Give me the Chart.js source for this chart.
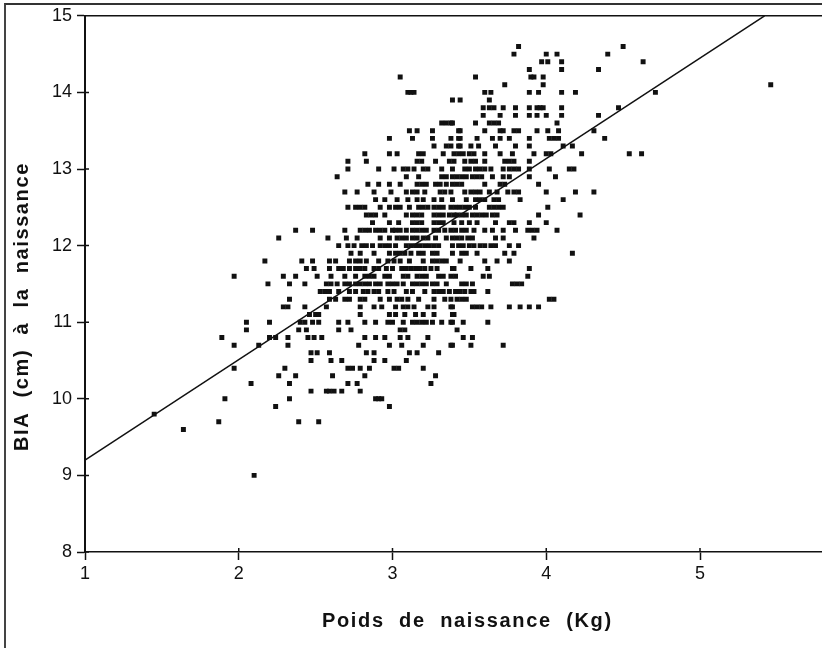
<!DOCTYPE html>
<html lang="fr">
<head>
<meta charset="utf-8">
<title>BIA et poids de naissance</title>
<script src="https://cdn.jsdelivr.net/npm/chart.js@4"></script>
<style>
  html, body { margin: 0; padding: 0; background: #fff; overflow: hidden; }
  #wrap { position: relative; width: 822px; height: 648px; overflow: hidden; }
  #frame { position: absolute; left: 4px; top: 3px; right: 0; bottom: 0; border-left: 2px solid #444; border-top: 2px solid #333; }
  canvas { position: absolute; left: 0; top: 0; }
</style>
</head>
<body>
<div id="wrap">
  <div id="frame"></div>
  <!-- a bit wider than the window: the axis has to run off the right edge -->
  <canvas id="chart" width="827" height="648"></canvas>
</div>
<script>
const xTitle = "Poids de naissance (Kg)";
const yTitle = "BIA (cm) à la naissance";
const xTicks = [1, 2, 3, 4, 5];
const yTicks = [8, 9, 10, 11, 12, 13, 14, 15];

// regression line, read at both ends
const lineX = [1, 5.42];
const lineY = [9.2, 15];

// measurements are rounded to 0.1 cm so the cloud is kept row by row
const rowY = [14.6, 14.5, 14.4, 14.3, 14.2, 14.1, 14.0, 13.9, 13.8, 13.7, 13.6, 13.5, 13.4, 13.3, 13.2, 13.1, 13.0, 12.9, 12.8, 12.7];
const rowX = [
  [3.82, 4.50],
  [3.79, 4.00, 4.07, 4.40],
  [3.97, 4.01, 4.10, 4.63],
  [3.89, 4.10, 4.34],
  [3.05, 3.54, 3.90, 3.92, 3.98],
  [3.73, 3.98, 5.46],
  [3.10, 3.12, 3.14, 3.60, 3.64, 3.89, 3.95, 4.10, 4.19, 4.71],
  [3.39, 3.44, 3.63],
  [3.59, 3.63, 3.66, 3.72, 3.80, 3.89, 3.94, 3.96, 3.98, 4.10, 4.47],
  [3.59, 3.70, 3.80, 3.89, 3.94, 4.00, 4.10, 4.34],
  [3.32, 3.35, 3.38, 3.39, 3.54, 3.63, 3.66, 3.69, 4.07],
  [3.11, 3.16, 3.26, 3.43, 3.44, 3.60, 3.70, 3.72, 3.79, 3.82, 3.94, 4.01, 4.08, 4.31],
  [2.98, 3.13, 3.26, 3.38, 3.43, 3.44, 3.55, 3.65, 3.70, 3.76, 3.89, 4.02, 4.05, 4.08, 4.38],
  [3.27, 3.35, 3.38, 3.43, 3.44, 3.51, 3.56, 3.67, 3.80, 3.89, 4.11, 4.17],
  [2.82, 2.98, 3.03, 3.17, 3.20, 3.33, 3.40, 3.43, 3.46, 3.50, 3.53, 3.60, 3.70, 3.78, 3.92, 4.00, 4.03, 4.23, 4.54, 4.62],
  [2.71, 2.83, 3.16, 3.19, 3.28, 3.37, 3.40, 3.47, 3.51, 3.54, 3.60, 3.73, 3.76, 3.79, 3.89],
  [2.71, 2.91, 3.01, 3.07, 3.10, 3.14, 3.20, 3.23, 3.32, 3.39, 3.47, 3.50, 3.54, 3.57, 3.60, 3.64, 3.72, 3.76, 3.79, 3.82, 3.89, 4.02, 4.15, 4.18],
  [2.64, 3.09, 3.17, 3.32, 3.35, 3.39, 3.42, 3.45, 3.48, 3.52, 3.55, 3.58, 3.65, 3.72, 3.76, 3.89, 4.06],
  [2.84, 2.91, 2.98, 3.05, 3.16, 3.19, 3.22, 3.28, 3.31, 3.35, 3.39, 3.42, 3.45, 3.60, 3.70, 3.73, 3.95],
  [2.69, 2.77, 2.88, 2.99, 3.09, 3.13, 3.16, 3.21, 3.31, 3.34, 3.38, 3.47, 3.51, 3.54, 3.57, 3.63, 3.68, 3.75, 3.79, 3.82, 4.00, 4.19, 4.31]
];

const rowYLow = [12.6, 12.5, 12.4, 12.3, 12.2, 12.1, 12.0, 11.9, 11.8, 11.7, 11.6, 11.5, 11.4, 11.3, 11.2, 11.1, 11.0];
const rowXLow = [
  [2.89, 2.95, 3.03, 3.10, 3.16, 3.20, 3.27, 3.32, 3.39, 3.48, 3.54, 3.57, 3.60, 3.66, 3.69, 3.83, 4.11],
  [2.71, 2.76, 2.79, 2.82, 2.92, 2.98, 3.02, 3.05, 3.11, 3.17, 3.20, 3.23, 3.27, 3.30, 3.33, 3.38, 3.41, 3.44, 3.47, 3.50, 3.54, 3.63, 3.66, 3.69, 3.72, 4.01],
  [2.83, 2.86, 2.89, 2.95, 3.09, 3.13, 3.16, 3.19, 3.27, 3.30, 3.33, 3.37, 3.40, 3.42, 3.45, 3.48, 3.52, 3.55, 3.58, 3.61, 3.65, 3.68, 3.95, 4.22],
  [2.87, 2.98, 3.04, 3.13, 3.16, 3.19, 3.27, 3.30, 3.33, 3.40, 3.45, 3.50, 3.55, 3.67, 3.76, 3.79, 3.89, 4.00],
  [2.37, 2.48, 2.69, 2.79, 2.82, 2.85, 2.89, 2.92, 2.95, 3.00, 3.02, 3.05, 3.09, 3.13, 3.16, 3.19, 3.22, 3.27, 3.30, 3.34, 3.38, 3.41, 3.45, 3.48, 3.53, 3.60, 3.65, 3.72, 3.80, 3.88, 3.91, 3.94, 4.07],
  [2.26, 2.58, 2.70, 2.77, 2.92, 2.98, 3.03, 3.06, 3.09, 3.13, 3.16, 3.20, 3.23, 3.28, 3.35, 3.39, 3.42, 3.45, 3.49, 3.52, 3.67, 3.72, 3.92],
  [2.65, 2.71, 2.75, 2.80, 2.83, 2.87, 2.92, 2.95, 2.98, 3.02, 3.09, 3.12, 3.15, 3.18, 3.21, 3.24, 3.27, 3.30, 3.39, 3.43, 3.46, 3.50, 3.53, 3.57, 3.60, 3.64, 3.67, 3.76, 3.82],
  [2.73, 2.79, 2.88, 2.98, 3.02, 3.05, 3.08, 3.12, 3.17, 3.20, 3.26, 3.29, 3.39, 3.45, 3.48, 3.55, 3.73, 3.79, 4.17],
  [2.17, 2.41, 2.48, 2.59, 2.63, 2.72, 2.76, 2.79, 2.83, 2.91, 2.97, 3.01, 3.05, 3.11, 3.20, 3.26, 3.29, 3.32, 3.35, 3.44, 3.60, 3.68, 3.76],
  [2.44, 2.49, 2.59, 2.65, 2.68, 2.72, 2.76, 2.79, 2.82, 2.88, 2.91, 2.96, 3.00, 3.06, 3.09, 3.12, 3.15, 3.18, 3.21, 3.25, 3.29, 3.39, 3.40, 3.51, 3.62, 3.89],
  [1.97, 2.29, 2.37, 2.51, 2.60, 2.69, 2.76, 2.82, 2.85, 2.88, 2.95, 2.98, 3.07, 3.10, 3.16, 3.19, 3.22, 3.30, 3.33, 3.38, 3.41, 3.59, 3.63, 3.88],
  [2.19, 2.33, 2.43, 2.57, 2.60, 2.64, 2.69, 2.72, 2.76, 2.79, 2.82, 2.85, 2.89, 2.92, 2.97, 3.00, 3.03, 3.07, 3.13, 3.16, 3.19, 3.22, 3.26, 3.29, 3.35, 3.45, 3.48, 3.52, 3.78, 3.81, 3.84],
  [2.53, 2.56, 2.59, 2.65, 2.72, 2.76, 2.81, 2.84, 2.88, 2.91, 2.97, 3.01, 3.09, 3.13, 3.21, 3.27, 3.30, 3.33, 3.37, 3.41, 3.44, 3.47, 3.51, 3.53, 3.62],
  [2.33, 2.59, 2.63, 2.69, 2.72, 2.79, 2.82, 2.92, 2.98, 3.03, 3.06, 3.10, 3.17, 3.27, 3.34, 3.38, 3.42, 3.45, 3.48, 4.02, 4.05],
  [2.29, 2.32, 2.43, 2.57, 2.79, 2.88, 2.93, 3.02, 3.07, 3.10, 3.14, 3.23, 3.27, 3.38, 3.39, 3.52, 3.55, 3.58, 3.64, 3.76, 3.83, 3.89, 3.95],
  [2.46, 2.50, 2.52, 2.79, 2.98, 3.02, 3.08, 3.15, 3.20, 3.27, 3.39, 3.40],
  [2.05, 2.20, 2.40, 2.43, 2.48, 2.52, 2.65, 2.71, 2.82, 2.89, 2.97, 3.00, 3.07, 3.13, 3.16, 3.19, 3.22, 3.26, 3.32, 3.38, 3.39, 3.46, 3.62]
];

const rowYBottom = [10.9, 10.8, 10.7, 10.6, 10.5, 10.4, 10.3, 10.2, 10.1, 10.0, 9.9, 9.8, 9.7, 9.6, 9.0];
const rowXBottom = [
  [2.05, 2.39, 2.44, 2.65, 2.73, 3.05, 3.08, 3.42],
  [1.89, 2.20, 2.24, 2.32, 2.45, 2.49, 2.54, 2.82, 2.89, 2.95, 3.05, 3.10, 3.23, 3.46, 3.52],
  [1.97, 2.13, 2.32, 2.78, 2.98, 3.06, 3.20, 3.38, 3.39, 3.51, 3.72],
  [2.47, 2.51, 2.59, 2.83, 2.88, 3.11, 3.16, 3.30],
  [2.47, 2.60, 2.67, 2.88, 2.95, 3.09],
  [1.97, 2.30, 2.71, 2.74, 2.79, 2.85, 3.01, 3.04, 3.20],
  [2.26, 2.37, 2.61, 2.82, 3.28],
  [2.08, 2.33, 2.71, 2.77, 3.25],
  [2.47, 2.57, 2.59, 2.62, 2.67, 2.79],
  [1.91, 2.33, 2.89, 2.91, 2.93],
  [2.24, 2.98],
  [1.45],
  [1.87, 2.39, 2.52],
  [1.64],
  [2.10]
];

function toPoints(ys, xs) {
  const out = [];
  ys.forEach((y, i) => xs[i].forEach(x => out.push({ x: x, y: y })));
  return out;
}

const cloud = [
  ...toPoints(rowY, rowX),
  ...toPoints(rowYLow, rowXLow),
  ...toPoints(rowYBottom, rowXBottom),
];

function drawSpaced(ctx, text, x, y, spacing, rotate) {
  ctx.save();
  ctx.translate(x, y);
  if (rotate) ctx.rotate(-Math.PI / 2);
  ctx.letterSpacing = spacing;
  ctx.font = "bold 20px 'Liberation Sans', Arial, sans-serif";
  ctx.fillStyle = "#111";
  ctx.textAlign = "left";
  ctx.textBaseline = "alphabetic";
  ctx.fillText(text, 0, 0);
  ctx.restore();
}

// top line, little inner tick stubs and the two spaced out axis titles
const framePlugin = {
  id: "frameBits",
  afterDraw(chart) {
    const { ctx, chartArea, scales } = chart;
    ctx.save();
    ctx.strokeStyle = "#111";
    ctx.lineWidth = 1.5;
    ctx.beginPath();
    ctx.moveTo(chartArea.left, chartArea.top);
    ctx.lineTo(chartArea.right, chartArea.top);
    xTicks.forEach(v => {
      const px = scales.x.getPixelForValue(v);
      ctx.moveTo(px, chartArea.bottom);
      ctx.lineTo(px, chartArea.bottom - 4);
    });
    yTicks.forEach(v => {
      const py = scales.y.getPixelForValue(v);
      ctx.moveTo(chartArea.left, py);
      ctx.lineTo(chartArea.left + 4, py);
    });
    ctx.stroke();
    ctx.restore();
    drawSpaced(ctx, xTitle.replace(/ /g, "  "), 322, 627, "1.65px", false);
    drawSpaced(ctx, yTitle.replace(/ /g, "  "), 28, 451, "1.6px", true);
  },
};

new Chart(document.getElementById("chart"), {
  type: "scatter",
  data: {
    datasets: [
      {
        label: "Sujets",
        data: cloud,
        pointStyle: "rect",
        pointRadius: 3.5,
        backgroundColor: "#111",
        borderWidth: 0,
      },
      {
        label: "Droite",
        data: lineX.map((x, i) => ({ x: x, y: lineY[i] })),
        showLine: true,
        pointRadius: 0,
        borderColor: "#111",
        borderWidth: 1.5,
      },
    ],
  },
  options: {
    responsive: false,
    animation: false,
    layout: { padding: { left: 0, top: 15, right: 0, bottom: 0 } },
    plugins: { legend: { display: false }, tooltip: { enabled: false } },
    scales: {
      x: {
        type: "linear",
        min: 1,
        max: 5.8,
        afterBuildTicks: scale => { scale.ticks = xTicks.map(v => ({ value: v })); },
        afterFit: scale => { scale.height = 96; },
        grid: { drawOnChartArea: false, tickLength: 8, tickColor: "#111", tickWidth: 1.5 },
        border: { color: "#111", width: 1.5 },
        ticks: { color: "#111", padding: 3, maxRotation: 0, autoSkip: false, font: { family: "'Liberation Sans', Arial, sans-serif", size: 18 } },
      },
      y: {
        min: 8,
        max: 15,
        afterBuildTicks: scale => { scale.ticks = yTicks.map(v => ({ value: v })); },
        afterFit: scale => { scale.width = 85; },
        grid: { drawOnChartArea: false, tickLength: 8, tickColor: "#111", tickWidth: 1.5 },
        border: { color: "#111", width: 2 },
        ticks: { color: "#111", padding: 5, autoSkip: false, font: { family: "'Liberation Sans', Arial, sans-serif", size: 18 } },
      },
    },
  },
  plugins: [framePlugin],
});
</script>
</body>
</html>
